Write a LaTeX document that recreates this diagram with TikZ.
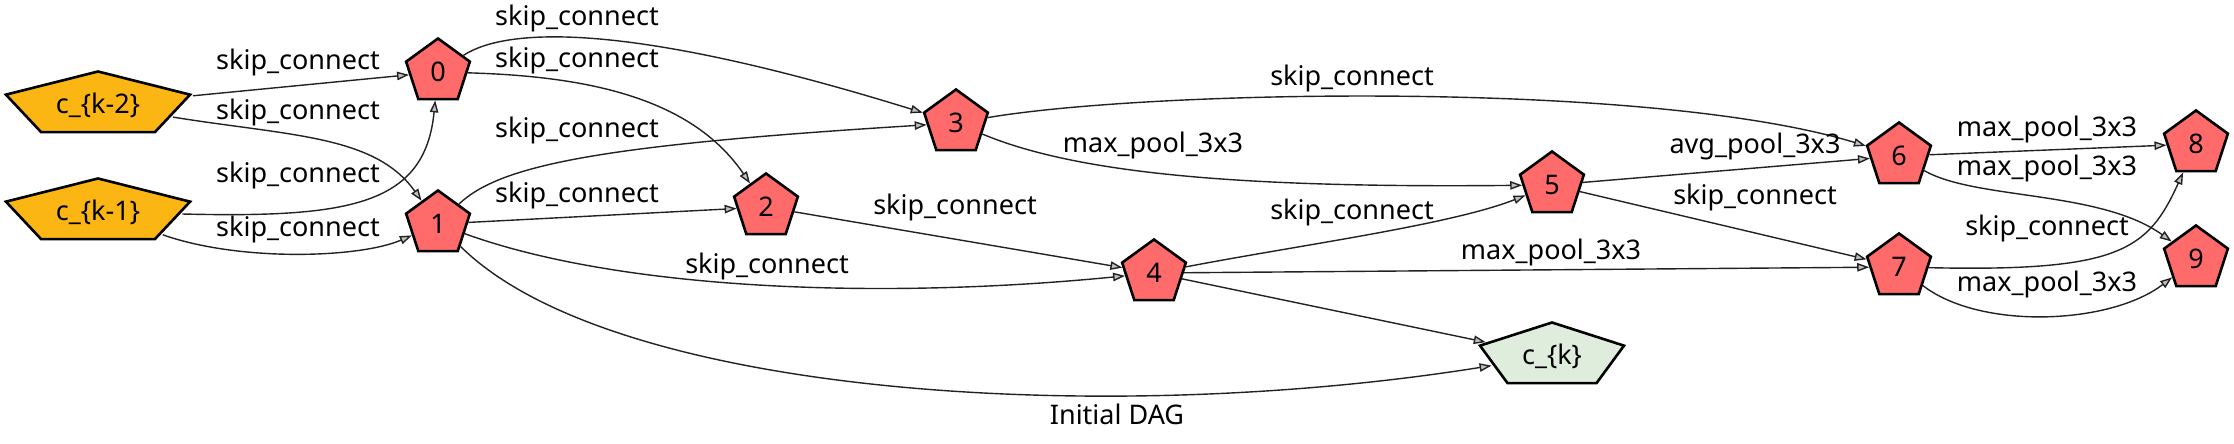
\documentclass[tikz,border=0pt]{standalone}
\usepackage{fontspec}
\setmainfont{Noto Sans}
\usetikzlibrary{shapes.geometric,arrows.meta}
\definecolor{nred}{HTML}{FF6B6B}
\definecolor{norange}{HTML}{FCB614}
\definecolor{ngreen}{HTML}{DFEDDC}
\definecolor{edgec}{HTML}{222222}
\definecolor{tipfill}{HTML}{C0C0C0}
\begin{document}
\begin{tikzpicture}[x=0.5pt,y=-0.5pt,
  pent/.style={regular polygon, regular polygon sides=5, minimum size=33.5pt, inner sep=0pt,
    draw=black, line width=1.3pt, font=\fontsize{13.5}{16}\selectfont},
  rednode/.style={pent, fill=nred},
  lbl/.style={font=\fontsize{13.5}{16}\selectfont, inner sep=0pt},
  conn/.style={draw=edgec, line width=0.7pt, -{Triangle[length=6pt,width=4.2pt,fill=tipfill]}},
]
\useasboundingbox (0,0) rectangle (2234,444);

% input nodes
\begin{scope}[shift={(98,105)}, xscale=2.89]
  \node[pent, fill=norange, transform shape] (ckm2) at (0,0) {\scalebox{0.346}[1]{c\_\{k-2\}}};
\end{scope}
\begin{scope}[shift={(98,212)}, xscale=2.89]
  \node[pent, fill=norange, transform shape] (ckm1) at (0,0) {\scalebox{0.346}[1]{c\_\{k-1\}}};
\end{scope}
\begin{scope}[shift={(1552,356)}, xscale=2.26]
  \node[pent, fill=ngreen, transform shape] (ck) at (0,0) {\scalebox{0.4425}[1]{c\_\{k\}}};
\end{scope}

% operation nodes
\node[rednode] (n0) at (438,72) {0};
\node[rednode] (n1) at (438,224) {1};
\node[rednode] (n2) at (766,207) {2};
\node[rednode] (n3) at (956,123) {3};
\node[rednode] (n4) at (1154,273) {4};
\node[rednode] (n5) at (1552,185) {5};
\node[rednode] (n6) at (1899,156) {6};
\node[rednode] (n7) at (1899,267) {7};
\node[rednode] (n8) at (2196,144) {8};
\node[rednode] (n9) at (2196,259) {9};

% connectors
\draw[conn] (ckm2) -- (n0);
\draw[conn] (ckm2) .. controls (290,136) and (375,135) .. (n1);
\draw[conn] (ckm1) .. controls (350,218) and (425,205) .. (n0);
\draw[conn] (ckm1) .. controls (240,262) and (360,258) .. (n1);
\draw[conn] (n0) .. controls (510,25) and (640,25) .. (n3);
\draw[conn] (n0) .. controls (580,76) and (690,95) .. (n2);
\draw[conn] (n1) .. controls (500,165) and (600,145) .. (n3);
\draw[conn] (n1) -- (n2);
\draw[conn] (n1) .. controls (620,290) and (880,300) .. (n4);
\draw[conn] (n1) .. controls (610,395) and (1100,428) .. (ck);
\draw[conn] (n2) -- (n4);
\draw[conn] (n3) .. controls (1150,90) and (1650,80) .. (n6);
\draw[conn] (n3) .. controls (1080,175) and (1250,188) .. (n5);
\draw[conn] (n4) .. controls (1300,245) and (1450,225) .. (n5);
\draw[conn] (n4) -- (n7);
\draw[conn] (n4) -- (ck);
\draw[conn] (n5) -- (n6);
\draw[conn] (n5) -- (n7);
\draw[conn] (n6) -- (n8);
\draw[conn] (n6) .. controls (1975,200) and (2100,190) .. (n9);
\draw[conn] (n7) .. controls (2120,272) and (2148,250) .. (n8);
\draw[conn] (n7) .. controls (1980,330) and (2110,325) .. (n9);

% labels
\node[lbl] (l1) at (298,62) {skip\_connect};
\node[lbl] (l2) at (298,112) {skip\_connect};
\node[lbl] (l3) at (298,175) {skip\_connect};
\node[lbl] (l4) at (298,229.5) {skip\_connect};
\node[lbl] (l5) at (577,18) {skip\_connect};
\node[lbl] (l6) at (577,60) {skip\_connect};
\node[lbl] (l7) at (577,130) {skip\_connect};
\node[lbl] (l8) at (577,195) {skip\_connect};
\node[lbl] (l9) at (767,266) {skip\_connect};
\node[lbl] (l10) at (955,207.5) {skip\_connect};
\node[lbl] (l11) at (1352,78) {skip\_connect};
\node[lbl] (l12) at (1153,145) {max\_pool\_3x3};
\node[lbl] (l13) at (1352,212) {skip\_connect};
\node[lbl] (l14) at (1551,252) {max\_pool\_3x3};
\node[lbl] (l15) at (1755,146) {avg\_pool\_3x3};
\node[lbl] (l16) at (1755,197) {skip\_connect};
\node[lbl] (l17) at (2047,129) {max\_pool\_3x3};
\node[lbl] (l18) at (2047,168) {max\_pool\_3x3};
\node[lbl] (l19) at (2047,228) {skip\_connect};
\node[lbl] (l20) at (2047,284) {max\_pool\_3x3};
\node[lbl] (title) at (1117,414) {Initial DAG};
\end{tikzpicture}
\end{document}
